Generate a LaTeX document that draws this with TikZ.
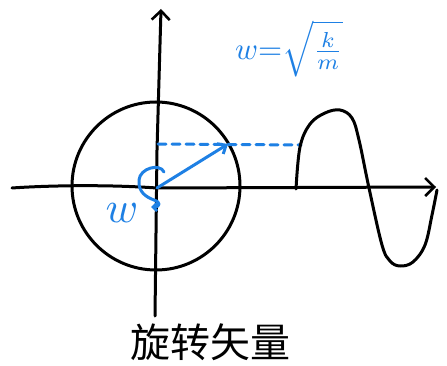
\documentclass[tikz,border=0pt]{standalone}
\usepackage{graphicx}
\usepackage{fontspec}
\newfontfamily\cjk{Noto Sans CJK SC}
\usetikzlibrary{arrows.meta}
\definecolor{penblue}{RGB}{30,128,228}
\tikzset{
  ink/.style={line width=3pt, line cap=round, line join=round},
  blueink/.style={ink, penblue},
  axisarrow/.style={-{Straight Barb[length=9pt,width=18pt,line width=2.6pt]}}
}
\begin{document}
\begin{tikzpicture}[x=1pt,y=-1pt]
\useasboundingbox (0,0) rectangle (447,366);
% axes
\coordinate (ytop) at (161,9);
\coordinate (ybot) at (155,316);
\coordinate (xleft) at (12,188);
\coordinate (xright) at (436,187);
\coordinate (O) at (157,188);
\draw[ink,axisarrow] (ybot) -- (157,150) -- (ytop);
\draw[ink,axisarrow] (xleft) .. controls (40,186) and (100,184) .. (O) -- (xright);
% circle
\draw[ink] (156,186) circle[radius=84];
% rotating vector
\coordinate (tip) at (228,144);
\draw[blueink,-{Straight Barb[length=7pt,width=12pt]}] (O) -- (tip);
% dashed projection
\coordinate (dstart) at (158,144);
\coordinate (dend) at (301,145);
\draw[blueink,dash pattern=on 8pt off 6pt] (dstart) -- (dend);
% rotation arrow
\draw[blueink,-{Straight Barb[length=4pt,width=8pt]}] (164,172) .. controls (160,163) and (140,168) .. (139,180) .. controls (138,192) and (146,197) .. (154,200) .. controls (161,202) and (160,207) .. (151,207);
\node[text=penblue] (wlabel) at (122,213) {\scalebox{4.4}{$w$}};
% formula
\node[text=penblue,inner sep=0pt] (formula) at (289,49) {\scalebox{3.1}{$w{=}\sqrt{\frac{k}{m}}$}};
% wave
\draw[ink] plot[smooth,tension=0.6] coordinates {(296,189) (300,147) (310,124) (325,113) (340,110) (352,118) (359,140) (369,188) (382,245) (390,261) (400,266) (413,262) (425,245) (432,215) (437,190)};
% caption
\node[font=\cjk\fontsize{40}{40}\selectfont] (caption) at (210,342) {旋转矢量};
\end{tikzpicture}
\end{document}
